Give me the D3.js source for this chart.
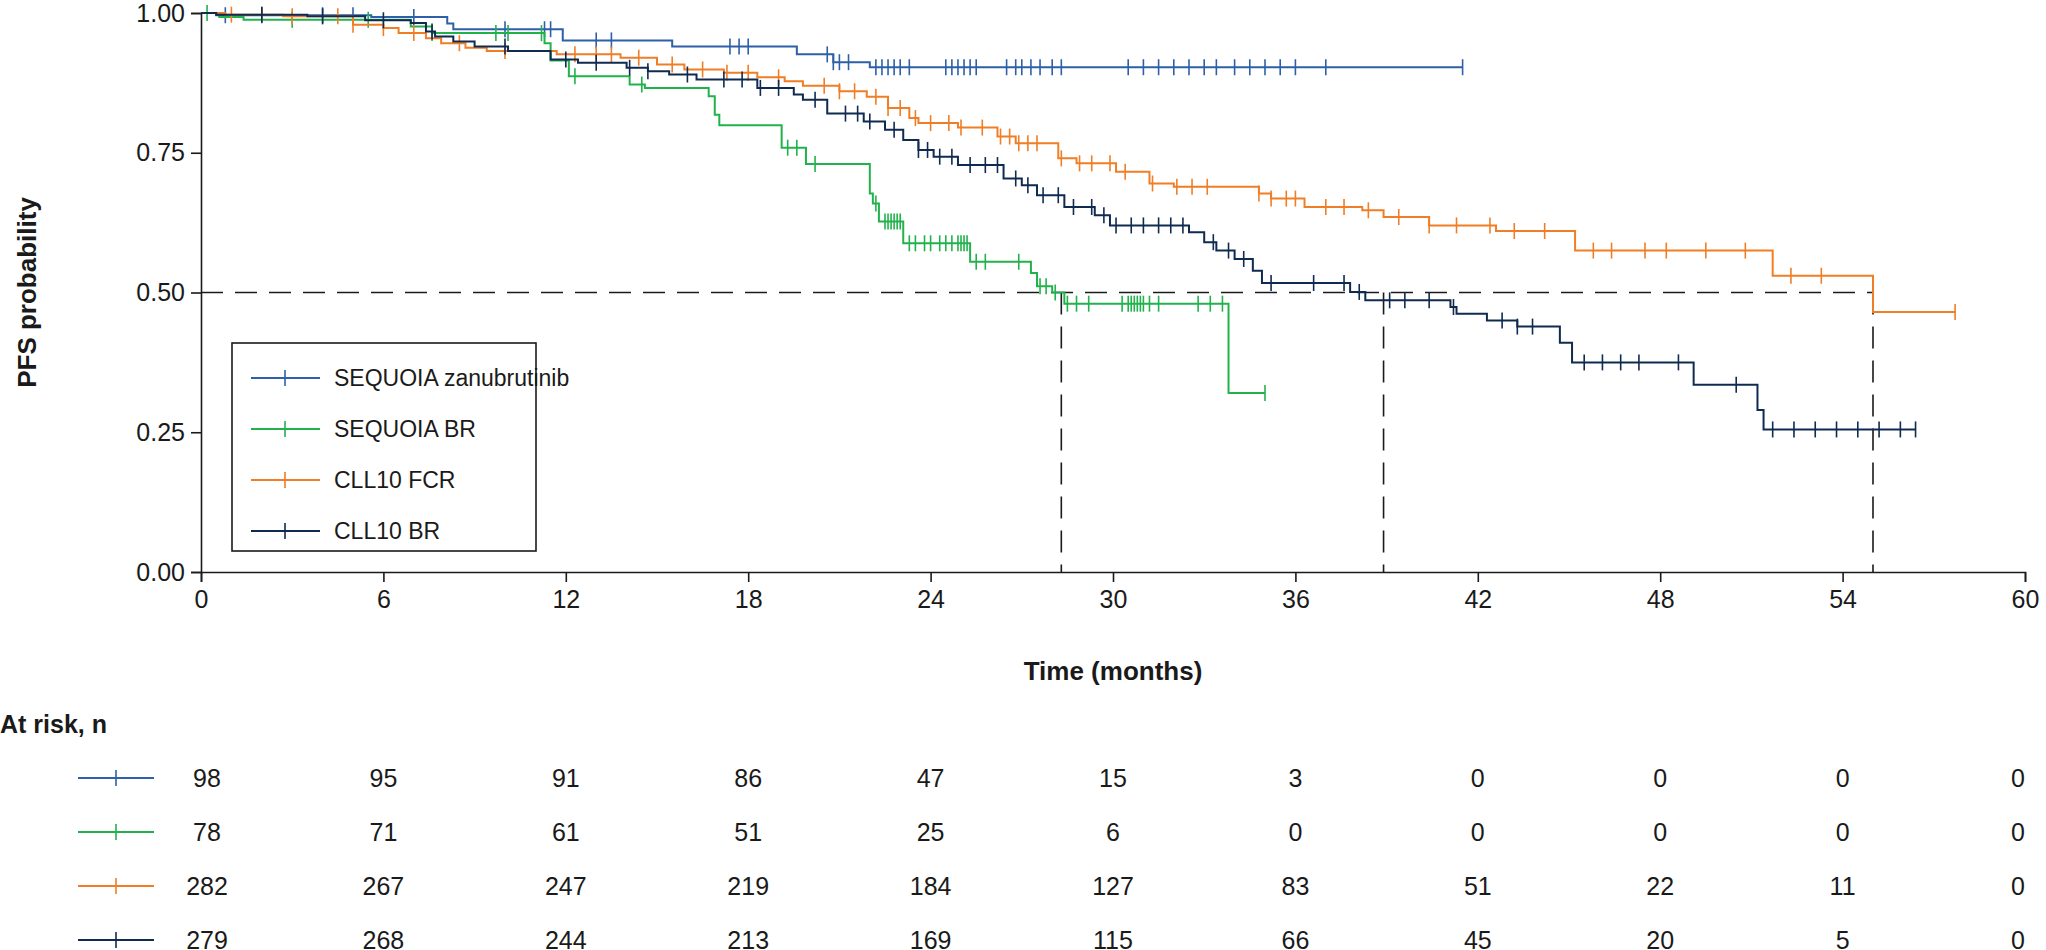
<!DOCTYPE html>
<html>
<head>
<meta charset="utf-8">
<script src="https://cdn.jsdelivr.net/npm/d3@7"></script>
<style>
  body { margin: 0; background: #fff; }
  text { font-family: "Liberation Sans", Arial, sans-serif; fill: #1a1a1a; }
</style>
</head>
<body>
<div id="chart"></div>
<script>
var width = 2046, height = 950;

// Kaplan-Meier step data (time in months, survival)
var zanuT = [0, 0.5, 5.6, 8.1, 8.3, 11.9, 15.5, 19.6, 20.8, 22, 41.5];
var zanuS = [1, 0.996, 0.993, 0.981, 0.971, 0.951, 0.940, 0.926, 0.912, 0.903, 0.903];
var zanuC = [0.8, 2, 4, 5, 7, 10, 11.3, 11.5, 13, 13.5, 17.4, 17.7, 18, 20.6, 20.8, 21, 21.3, 22.2, 22.4, 22.6, 22.8, 23, 23.3,
  24.5, 24.7, 24.9, 25.1, 25.3, 25.5, 26.5, 26.8, 27, 27.3, 27.6, 28, 28.3, 30.5, 31, 31.5, 32, 32.5, 33, 33.4, 34, 34.5, 35, 35.5, 36, 37, 41.5];

var seqbrT = [0, 0.6, 1.4, 6.9, 7.6, 11.3, 11.5, 12.1, 14.1, 14.6, 16.7, 16.9, 17.05, 19.1, 19.9, 22.0, 22.1, 22.3, 23.1, 25.3, 27.3, 27.5, 28.0, 28.4, 33.8, 35];
var seqbrS = [1, 0.993, 0.988, 0.976, 0.964, 0.946, 0.915, 0.887, 0.872, 0.866, 0.851, 0.818, 0.799, 0.759, 0.730, 0.677, 0.659, 0.627, 0.588, 0.555, 0.535, 0.511, 0.500, 0.480, 0.320, 0.320];
var seqbrC = [0.2, 3, 5.5, 7.6, 9.7, 10.1, 11.2, 12.3, 14.5, 19.3, 19.6, 20.2, 22.2, 22.5, 22.6, 22.7, 22.8, 22.9, 23, 23.3, 23.5, 23.8,
  24, 24.3, 24.5, 24.7, 24.9, 25, 25.1, 25.2, 25.5, 25.8, 26.9, 27.6, 27.8, 28.1, 28.5, 28.8, 29.2, 30.3, 30.5, 30.6, 30.7, 30.8,
  30.9, 31, 31.2, 31.5, 32.8, 33.2, 33.6, 35];

var fcrT = [0, 0.8, 2.7, 5, 6, 6.5, 7.4, 7.9, 8.7, 9.4, 11.7, 13.8, 15, 15.9, 17.2, 18.3, 19.2, 19.8, 21, 21.9, 22.6, 23.3, 23.6,
  24.9, 26.2, 26.8, 28.2, 28.8, 30.1, 31.2, 32.0, 34.8, 35.2, 36.3, 38.2, 38.9, 40.4, 42.6, 45.2, 51.7, 55.0, 57.7];
var fcrS = [1, 0.997, 0.994, 0.979, 0.973, 0.964, 0.955, 0.946, 0.938, 0.932, 0.926, 0.920, 0.908, 0.899, 0.893, 0.885, 0.878, 0.870,
  0.860, 0.850, 0.830, 0.812, 0.803, 0.795, 0.779, 0.767, 0.740, 0.731, 0.716, 0.695, 0.689, 0.677, 0.668, 0.653, 0.647, 0.635,
  0.620, 0.610, 0.575, 0.530, 0.465, 0.465];
var fcrC = [1, 2, 3, 4.5, 5, 6, 7, 8.5, 10, 12.3, 13, 13.5, 14.4, 15.5, 16.5, 17.3, 18, 19, 20.5, 21, 21.5, 22.2, 22.6, 23, 23.5, 24,
  24.6, 25, 25.7, 26.3, 26.6, 26.9, 27.2, 27.5, 28.3, 28.9, 29.3, 29.9, 30.4, 31.3, 32.1, 32.6, 33.1, 34.8, 35.2, 35.7, 36, 37,
  37.6, 38.4, 39.4, 40.4, 41.3, 42.4, 43.2, 44.2, 45.8, 46.4, 47.5, 48.2, 49.5, 50.8, 52.3, 53.3, 57.7];

var cllbrT = [0, 0.5, 3.5, 5.4, 6.9, 7.4, 7.7, 8.3, 9.0, 10.1, 11.5, 12.4, 14, 14.7, 15.4, 16.3, 18.3, 19.5, 19.8, 20.6, 21.8,
  22.5, 23.1, 23.6, 24.1, 24.9, 26.4, 27, 27.5, 28.4, 29.4, 29.9, 32.5, 33, 33.4, 34, 34.6, 34.9, 37.8, 38.3, 41.1, 41.3, 42.3,
  43.3, 44.7, 45.1, 49.1, 51.2, 51.4, 56.4];
var cllbrS = [1, 0.997, 0.994, 0.987, 0.982, 0.967, 0.958, 0.949, 0.940, 0.932, 0.917, 0.911, 0.902, 0.896, 0.890, 0.881, 0.866,
  0.854, 0.845, 0.820, 0.806, 0.791, 0.773, 0.755, 0.743, 0.728, 0.704, 0.692, 0.674, 0.653, 0.638, 0.620, 0.608, 0.590, 0.575,
  0.560, 0.539, 0.517, 0.501, 0.486, 0.474, 0.462, 0.450, 0.439, 0.410, 0.375, 0.335, 0.290, 0.255, 0.255];
var cllbrC = [2, 4, 6, 7.6, 10, 12, 13, 14.1, 14.7, 16, 17.2, 17.8, 18.4, 19, 20.2, 21.2, 21.6, 22, 22.8, 23.6, 23.9, 24.3, 24.7,
  25.3, 25.8, 26.2, 26.8, 27.2, 27.7, 28.2, 28.7, 29.3, 29.7, 30.1, 30.6, 31, 31.5, 31.9, 32.3, 33.3, 33.8, 34.3, 35.2, 36.6,
  37.6, 38.1, 39.1, 39.6, 40.4, 41.2, 42.8, 43.3, 43.8, 45.5, 46.1, 46.7, 47.3, 48.6, 50.5, 51.7, 52.4, 53.1, 53.8, 54.5, 55.2,
  55.9, 56.4];

var seriesNames = ["SEQUOIA zanubrutinib", "SEQUOIA BR", "CLL10 FCR", "CLL10 BR"];
var seriesColors = ["#2d60a8", "#22b24c", "#f07e26", "#0f2b50"];
var medians = [28.3, 38.9, 55.0];

var xTicks = [0, 6, 12, 18, 24, 30, 36, 42, 48, 54, 60];
var yTicks = [0, 0.25, 0.5, 0.75, 1];
var atRisk = [
  [98, 95, 91, 86, 47, 15, 3, 0, 0, 0, 0],
  [78, 71, 61, 51, 25, 6, 0, 0, 0, 0, 0],
  [282, 267, 247, 219, 184, 127, 83, 51, 22, 11, 0],
  [279, 268, 244, 213, 169, 115, 66, 45, 20, 5, 0]
];

var series = [
  { t: zanuT, s: zanuS, c: zanuC },
  { t: seqbrT, s: seqbrS, c: seqbrC },
  { t: fcrT, s: fcrS, c: fcrC },
  { t: cllbrT, s: cllbrS, c: cllbrC }
];

var margin = { left: 201, right: 21, top: 13, plotBottom: 572 };

var svg = d3.select("#chart").append("svg")
  .attr("width", width).attr("height", height);

var x = d3.scaleLinear().domain([0, 60]).range([margin.left, width - margin.right]);
var y = d3.scaleLinear().domain([0, 1]).range([margin.plotBottom, margin.top]);

// axes
svg.append("g")
  .attr("transform", "translate(0," + margin.plotBottom + ")")
  .call(d3.axisBottom(x).tickValues(xTicks).tickSize(10).tickPadding(8))
  .call(function (g) {
    g.selectAll("text").attr("font-size", 25).attr("font-family", "Liberation Sans, Arial");
    g.selectAll("line,path").attr("stroke", "#1a1a1a").attr("stroke-width", 1.6);
  });

svg.append("g")
  .attr("transform", "translate(" + margin.left + ",0)")
  .call(d3.axisLeft(y).tickValues(yTicks).tickFormat(d3.format(".2f")).tickSize(10).tickPadding(6))
  .call(function (g) {
    g.selectAll("text").attr("font-size", 25).attr("font-family", "Liberation Sans, Arial");
    g.selectAll("line,path").attr("stroke", "#1a1a1a").attr("stroke-width", 1.6);
  });

svg.append("text")
  .attr("x", (x(0) + x(60)) / 2).attr("y", 680)
  .attr("text-anchor", "middle").attr("font-size", 26).attr("font-weight", "bold")
  .text("Time (months)");

svg.append("text")
  .attr("transform", "translate(36," + y(0.5) + ")rotate(-90)")
  .attr("text-anchor", "middle").attr("font-size", 26).attr("font-weight", "bold")
  .text("PFS probability");

// median lines
svg.append("line")
  .attr("x1", x(0)).attr("x2", x(medians[2]))
  .attr("y1", y(0.5)).attr("y2", y(0.5))
  .attr("stroke", "#1a1a1a").attr("stroke-width", 1.6).attr("stroke-dasharray", "22,12");
medians.forEach(function (m) {
  svg.append("line")
    .attr("x1", x(m)).attr("x2", x(m))
    .attr("y1", y(0.5)).attr("y2", y(0))
    .attr("stroke", "#1a1a1a").attr("stroke-width", 1.6).attr("stroke-dasharray", "22,12");
});

// curves
var line = d3.line()
  .x(function (d) { return x(d[0]); })
  .y(function (d) { return y(d[1]); })
  .curve(d3.curveStepAfter);

function survAt(sr, t) {
  var i = d3.bisectRight(sr.t, t) - 1;
  return sr.s[Math.max(0, i)];
}

series.forEach(function (sr, k) {
  var pts = sr.t.map(function (t, i) { return [t, sr.s[i]]; });
  svg.append("path")
    .datum(pts)
    .attr("d", line)
    .attr("fill", "none")
    .attr("stroke", seriesColors[k])
    .attr("stroke-width", 2);

  svg.append("g").selectAll("line")
    .data(sr.c)
    .enter()
    .append("line")
    .attr("x1", function (d) { return x(d); })
    .attr("x2", function (d) { return x(d); })
    .attr("y1", function (d) { return y(survAt(sr, d)) - 8; })
    .attr("y2", function (d) { return y(survAt(sr, d)) + 8; })
    .attr("stroke", seriesColors[k])
    .attr("stroke-width", 1.6);
});

// legend
var legend = svg.append("g");
legend.append("rect")
  .attr("x", 232).attr("y", 343).attr("width", 304).attr("height", 208)
  .attr("fill", "#fff").attr("stroke", "#1a1a1a").attr("stroke-width", 1.6);
seriesNames.forEach(function (name, k) {
  var ly = 378 + k * 51;
  legend.append("line").attr("x1", 251).attr("x2", 320).attr("y1", ly).attr("y2", ly)
    .attr("stroke", seriesColors[k]).attr("stroke-width", 2);
  legend.append("line").attr("x1", 285).attr("x2", 285).attr("y1", ly - 8).attr("y2", ly + 8)
    .attr("stroke", seriesColors[k]).attr("stroke-width", 1.6);
  legend.append("text").attr("x", 334).attr("y", ly + 8)
    .attr("font-size", 23).text(name);
});

// at risk table
svg.append("text").attr("x", 0).attr("y", 733)
  .attr("font-size", 25).attr("font-weight", "bold").text("At risk, n");

atRisk.forEach(function (row, k) {
  var ry = 778 + k * 54;
  svg.append("line").attr("x1", 78).attr("x2", 154).attr("y1", ry).attr("y2", ry)
    .attr("stroke", seriesColors[k]).attr("stroke-width", 2);
  svg.append("line").attr("x1", 116).attr("x2", 116).attr("y1", ry - 8).attr("y2", ry + 8)
    .attr("stroke", seriesColors[k]).attr("stroke-width", 1.6);
  svg.append("g").selectAll("text")
    .data(row)
    .enter()
    .append("text")
    .attr("x", function (d, i) { return i === 0 ? x(0) + 6 : x(xTicks[i]); })
    .attr("y", ry + 9)
    .attr("text-anchor", function (d, i) { return i === xTicks.length - 1 ? "end" : "middle"; })
    .attr("font-size", 25)
    .text(function (d) { return d; });
});
</script>
</body>
</html>
